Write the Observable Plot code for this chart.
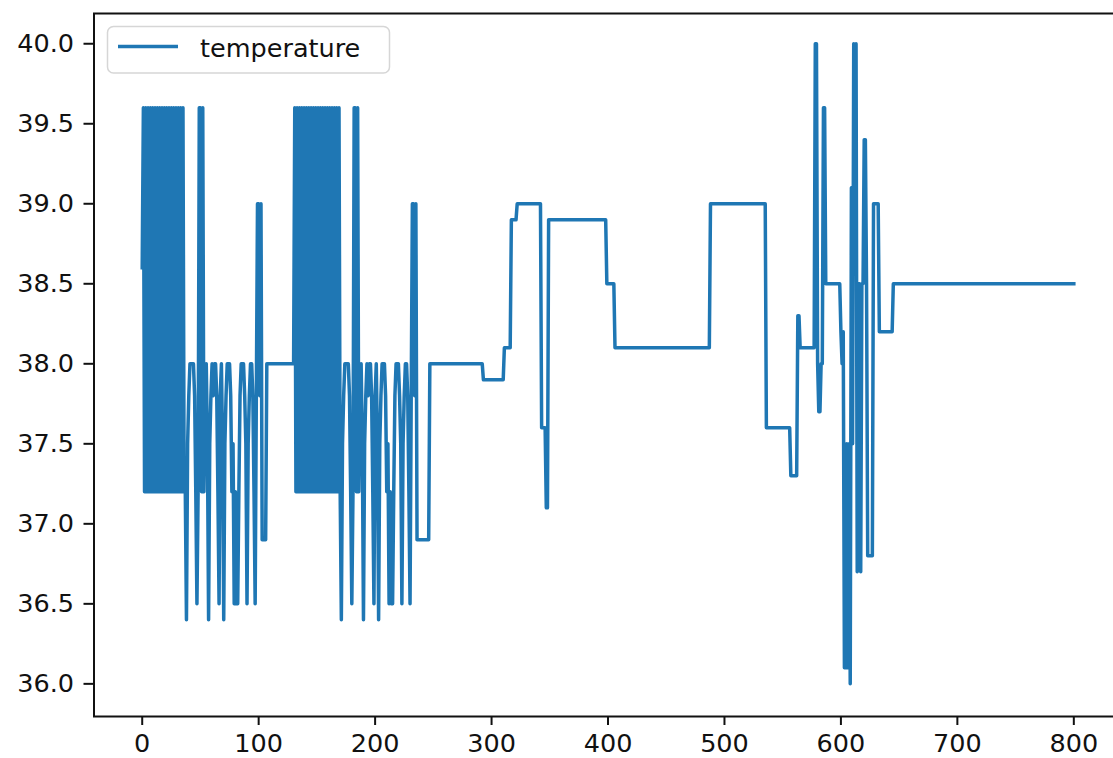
<!DOCTYPE html>
<html>
<head>
<meta charset="utf-8">
<script src="https://cdn.jsdelivr.net/npm/d3@7"></script>
<script src="https://cdn.jsdelivr.net/npm/@observablehq/plot@0.6"></script>
<style>
  html, body { margin: 0; padding: 0; background: #fff; overflow: hidden; }
  #wrap { position: relative; width: 1113px; height: 758px; }
  #legend { position: absolute; left: 0; top: 0; pointer-events: none; }
</style>
</head>
<body>
<div id="wrap"></div>
<script>
// ---- data ----
const seriesName = "temperature";

const sampleIndex = [
  // block 1
  0,1,2,3,4,5,6,7,8,9,
  10,11,12,13,14,15,16,17,18,19,
  20,21,22,23,24,25,26,27,28,29,
  30,31,32,33,34,35,36,37,
  // spikes 1
  38,39,
  40,41,42,43,44,45,46,47,48,49,
  50,51,52,53,54,55,56,57,58,59,
  60,61,62,63,64,65,66,67,68,69,
  70,71,72,73,74,75,76,77,78,79,
  80,81,82,83,84,85,86,87,88,89,
  90,91,92,93,94,95,96,97,98,99,
  100,101,102,103,104,105,106,
  107,130,
  // block 2
  131,132,133,134,135,136,137,138,139,
  140,141,142,143,144,145,146,147,148,149,
  150,151,152,153,154,155,156,157,158,159,
  160,161,162,163,164,165,166,167,168,169,
  170,
  // spikes 2
  171,172,
  173,174,175,176,177,178,179,180,181,182,
  183,184,185,186,187,188,189,190,191,192,
  193,194,195,196,197,198,199,200,201,202,
  203,204,205,206,207,208,209,210,211,212,
  213,214,215,216,217,218,219,220,221,222,
  223,224,225,226,227,228,229,230,231,232,
  233,234,235,236,237,238,239,
  246,
  // slow part
  247,292, 293,310, 311,316, 317,321, 322,342, 343,346, 347,348,
  349,398, 399,405, 406,487, 488,535, 536,556, 557,562, 563,564,
  565,577,
  // burst near 600
  578,579,580,581,582,583,584,585,586,587,599,
  600,601,602,603,604,605,606,607,608,609,
  610,611,612,613,614,615,616,617,618,619,
  620,621,622,623,627,628,632,633,644,645,800
];

const temperature = [
  // block 1
  38.6,39.6,37.2,39.6,37.2,39.6,37.2,39.6,37.2,39.6,
  37.2,39.6,37.2,39.6,37.2,39.6,37.2,39.6,37.2,39.6,
  37.2,39.6,37.2,39.6,37.2,39.6,37.2,39.6,37.2,39.6,
  37.2,39.6,37.2,39.6,37.2,39.6,37.2,37.2,
  // spikes 1
  36.4,37.5,
  37.8,38.0,38.0,38.0,38.0,37.8,37.2,36.5,37.2,39.6,
  39.6,37.2,39.6,37.2,37.8,38.0,37.5,36.4,37.5,37.8,
  38.0,37.8,38.0,38.0,37.8,37.2,36.5,37.8,38.0,37.5,
  36.4,37.5,37.8,38.0,38.0,38.0,37.8,37.2,37.5,36.5,
  37.2,36.5,36.5,37.2,37.8,38.0,38.0,38.0,37.8,37.5,
  36.5,37.5,37.8,38.0,38.0,37.8,37.2,36.5,37.8,39.0,
  39.0,37.8,39.0,36.9,36.9,36.9,36.9,
  38.0,38.0,
  // block 2
  39.6,37.2,39.6,37.2,39.6,37.2,39.6,37.2,39.6,
  37.2,39.6,37.2,39.6,37.2,39.6,37.2,39.6,37.2,39.6,
  37.2,39.6,37.2,39.6,37.2,39.6,37.2,39.6,37.2,39.6,
  37.2,39.6,37.2,39.6,37.2,39.6,37.2,39.6,37.2,39.6,
  37.2,
  // spikes 2
  36.4,37.5,
  37.8,38.0,38.0,38.0,38.0,37.8,37.2,36.5,37.2,39.6,
  39.6,37.2,39.6,37.2,37.8,38.0,37.5,36.4,37.5,37.8,
  38.0,37.8,38.0,38.0,37.8,37.2,36.5,37.8,38.0,37.5,
  36.4,37.5,37.8,38.0,38.0,38.0,37.8,37.2,37.5,36.5,
  37.2,36.5,36.5,37.2,37.8,38.0,38.0,38.0,37.8,37.5,
  36.5,37.5,37.8,38.0,38.0,37.8,37.2,36.5,37.8,39.0,
  39.0,37.8,39.0,36.9,36.9,36.9,36.9,
  36.9,
  // slow part
  38.0,38.0, 37.9,37.9, 38.1,38.1, 38.9,38.9, 39.0,39.0, 37.6,37.6, 37.1,37.1,
  38.9,38.9, 38.5,38.5, 38.1,38.1, 39.0,39.0, 37.6,37.6, 37.3,37.3, 38.3,38.3,
  38.1,38.1,
  // burst near 600
  40.0,40.0,38.0,37.7,37.7,38.0,38.0,39.6,39.6,38.5,38.5,
  38.2,38.0,38.2,36.1,36.1,37.5,36.1,37.5,36.0,39.1,
  37.5,40.0,39.1,40.0,36.7,38.5,38.5,36.7,38.5,38.5,
  39.4,39.4,38.5,36.8,36.8,39.0,39.0,38.2,38.2,38.5,38.5
];

const xTicks = [0, 100, 200, 300, 400, 500, 600, 700, 800];
const yTicks = [36.0, 36.5, 37.0, 37.5, 38.0, 38.5, 39.0, 39.5, 40.0];

// ---- chart ----
const FONT = "DejaVu Sans";
const FS = 25.5;
const BLUE = "#1f77b4";

const chart = Plot.plot({
  width: 1113,
  height: 758,
  marginLeft: 93.5,
  marginRight: -6.9,
  marginTop: 13,
  marginBottom: 42,
  style: {
    fontFamily: FONT,
    fontSize: FS + "px",
    color: "#111",
    background: "white",
    overflow: "hidden"
  },
  x: { domain: [-41.4, 840] },
  y: { domain: [35.796, 40.189] },
  marks: [
    Plot.lineY(temperature, {
      x: sampleIndex,
      stroke: BLUE,
      strokeWidth: 3.5,
      strokeLinejoin: "round",
      strokeLinecap: "square"
    }),
    Plot.frame({ stroke: "#111", strokeWidth: 2 }),
    Plot.axisX({
      ticks: xTicks, tickSize: 9, tickPadding: 8, strokeWidth: 2,
      label: null, fontSize: FS, tickFormat: d => String(d)
    }),
    Plot.axisY({
      ticks: yTicks, tickSize: 10, tickPadding: 10, strokeWidth: 2,
      label: null, fontSize: FS, tickFormat: d => d.toFixed(1)
    })
  ]
});

const wrap = document.getElementById("wrap");
wrap.appendChild(chart);

// legend (inside the plot area, upper left)
const ns = "http://www.w3.org/2000/svg";
const leg = document.createElementNS(ns, "svg");
leg.setAttribute("id", "legend");
leg.setAttribute("width", 1113);
leg.setAttribute("height", 758);
const box = document.createElementNS(ns, "rect");
box.setAttribute("x", 107.5); box.setAttribute("y", 26.5);
box.setAttribute("width", 282); box.setAttribute("height", 46.5);
box.setAttribute("rx", 6);
box.setAttribute("fill", "rgba(255,255,255,0.8)");
box.setAttribute("stroke", "#d6d6d6");
box.setAttribute("stroke-width", 1.5);
leg.appendChild(box);
const ln = document.createElementNS(ns, "line");
ln.setAttribute("x1", 118); ln.setAttribute("x2", 178);
ln.setAttribute("y1", 46.5); ln.setAttribute("y2", 46.5);
ln.setAttribute("stroke", BLUE); ln.setAttribute("stroke-width", 3.5);
leg.appendChild(ln);
const tx = document.createElementNS(ns, "text");
tx.setAttribute("x", 200); tx.setAttribute("y", 57);
tx.setAttribute("font-family", FONT);
tx.setAttribute("font-size", FS);
tx.setAttribute("fill", "#111");
tx.textContent = seriesName;
leg.appendChild(tx);
wrap.appendChild(leg);
</script>
</body>
</html>
